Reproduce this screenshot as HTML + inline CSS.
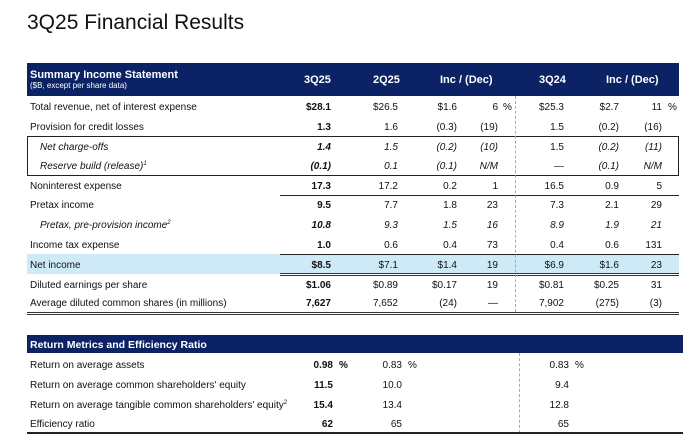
<!DOCTYPE html>
<html><head><meta charset="utf-8"><style>
*{margin:0;padding:0;box-sizing:border-box}
body{width:690px;height:442px;background:#fff;position:relative;overflow:hidden;font-family:"Liberation Sans",sans-serif;color:#111;font-size:10px}
.a{position:absolute;white-space:nowrap}
.r{position:absolute;white-space:nowrap;text-align:right}
.b{font-weight:bold}
.i{font-style:italic}
sup{font-size:6px;vertical-align:4px}
.hdr{position:absolute;background:#0b2265;color:#fff}
</style></head><body>
<div class="a" style="left:27px;top:11px;font-size:21px;color:#111">3Q25 Financial Results</div>

<div class="hdr" style="left:27px;top:63px;width:652px;height:33px"></div>
<div class="a b" style="left:30px;top:69px;color:#fff;font-size:11px">Summary Income Statement</div>
<div class="a" style="left:30px;top:81px;color:#fff;font-size:8px">($B, except per share data)</div>
<div class="a b" style="left:304px;top:74px;color:#fff;font-size:11px">3Q25</div>
<div class="a b" style="left:373px;top:74px;color:#fff;font-size:11px">2Q25</div>
<div class="a b" style="left:440px;top:74px;color:#fff;font-size:11px">Inc / (Dec)</div>
<div class="a b" style="left:539px;top:74px;color:#fff;font-size:11px">3Q24</div>
<div class="a b" style="left:606px;top:74px;color:#fff;font-size:11px">Inc / (Dec)</div>

<div class="a" style="left:27px;top:254px;width:652px;height:20px;background:#cdeaf6"></div>
<div class="a" style="left:27px;top:136px;width:652px;height:40px;border:1px solid #222"></div>
<div class="a" style="left:280px;top:195px;width:399px;height:1px;background:#222"></div>
<div class="a" style="left:280px;top:254px;width:399px;height:1px;background:#222"></div>
<div class="a" style="left:280px;top:273px;width:399px;height:3px;border-top:1px solid #333;border-bottom:1px solid #333"></div>
<div class="a" style="left:27px;top:312px;width:652px;height:3px;border-top:1px solid #333;border-bottom:1px solid #333"></div>
<div class="a" style="left:515px;top:96px;height:216px;border-left:1px dashed #aaa"></div>

<div id="t"></div>

<div class="hdr" style="left:27px;top:335px;width:656px;height:18px"></div>
<div class="a b" style="left:30px;top:339px;color:#fff;font-size:10.5px">Return Metrics and Efficiency Ratio</div>
<div class="a" style="left:519px;top:353px;height:80px;border-left:1px dashed #aaa"></div>
<div class="a" style="left:27px;top:432px;width:656px;height:2px;background:#222"></div>

<script>
const R=[331,398,457,498,564,619,662];
const rows=[
[96,"Total revenue, net of interest expense",0,["$28.1","$26.5","$1.6","6","$25.3","$2.7","11"],1],
[116,"Provision for credit losses",0,["1.3","1.6","(0.3)","(19)","1.5","(0.2)","(16)"]],
[136,"Net charge-offs",1,["1.4","1.5","(0.2)","(10)","1.5","(0.2)","(11)"]],
[155,"Reserve build (release)<sup>1</sup>",1,["(0.1)","0.1","(0.1)","N/M","—","(0.1)","N/M"]],
[175,"Noninterest expense",0,["17.3","17.2","0.2","1","16.5","0.9","5"]],
[194,"Pretax income",0,["9.5","7.7","1.8","23","7.3","2.1","29"]],
[214,"Pretax, pre-provision income<sup>2</sup>",1,["10.8","9.3","1.5","16","8.9","1.9","21"]],
[234,"Income tax expense",0,["1.0","0.6","0.4","73","0.4","0.6","131"]],
[254,"Net income",0,["$8.5","$7.1","$1.4","19","$6.9","$1.6","23"]],
[274,"Diluted earnings per share",0,["$1.06","$0.89","$0.17","19","$0.81","$0.25","31"]],
[292,"Average diluted common shares (in millions)",0,["7,627","7,652","(24)","—","7,902","(275)","(3)"]],
];
let h="";
for(const [y,l,it,v,pct] of rows){
 const ty=y+6;
 h+=`<div class="a ${it?'i':''}" style="left:${it?40:30}px;top:${ty}px">${l}</div>`;
 v.forEach((s,k)=>{
  let c=k==0?'b':'';
  if(it && !(y==136 && k==4)) c+=' i';
  h+=`<div class="r ${c}" style="right:${690-R[k]}px;top:${ty}px">${s}</div>`});
 if(pct){h+=`<div class="a" style="left:503px;top:${ty}px">%</div><div class="a" style="left:668px;top:${ty}px">%</div>`}
}
const b=[[354,"Return on average assets",["0.98","0.83","0.83"],1],
[374,"Return on average common shareholders' equity",["11.5","10.0","9.4"]],
[394,"Return on average tangible common shareholders' equity<sup>2</sup>",["15.4","13.4","12.8"]],
[413,"Efficiency ratio",["62","65","65"]]];
const BR=[333,402,569];
for(const [y,l,v,p] of b){
 const ty=y+6;
 h+=`<div class="a" style="left:30px;top:${ty}px">${l}</div>`;
 v.forEach((s,k)=>{h+=`<div class="r ${k==0?'b':''}" style="right:${690-BR[k]}px;top:${ty}px">${s}</div>`});
 if(p){h+=`<div class="a b" style="left:339px;top:${ty}px">%</div><div class="a" style="left:408px;top:${ty}px">%</div><div class="a" style="left:575px;top:${ty}px">%</div>`}
}
document.getElementById("t").innerHTML=h;
</script>
</body></html>
